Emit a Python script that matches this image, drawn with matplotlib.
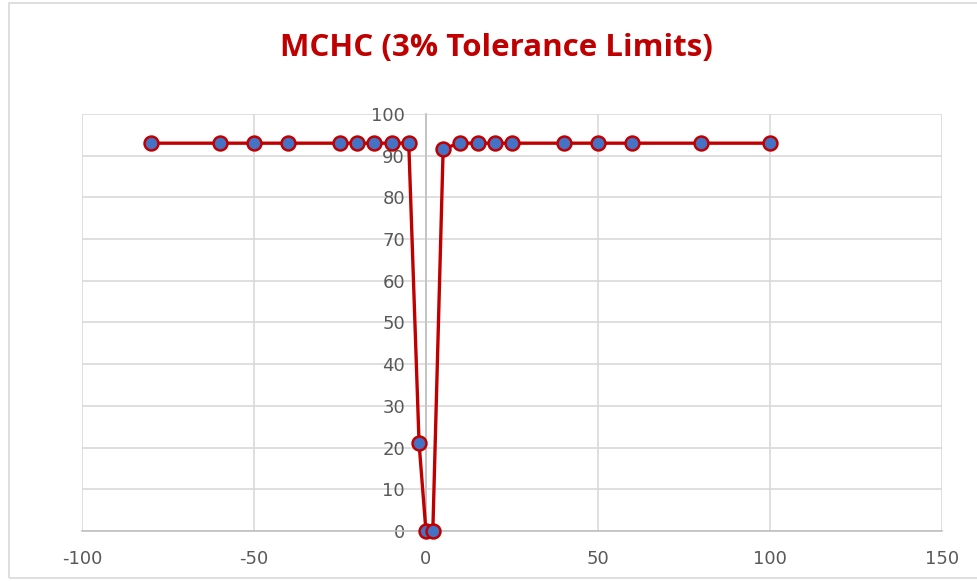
import matplotlib.pyplot as plt
from matplotlib.patches import Rectangle

# MCHC response vs. offset
offset = [-80, -60, -50, -40, -25, -20, -15, -10, -5, -2, 0, 2, 5,
          10, 15, 20, 25, 40, 50, 60, 80, 100]
mchc = [93, 93, 93, 93, 93, 93, 93, 93, 93, 21, 0, 0, 91.7,
        93, 93, 93, 93, 93, 93, 93, 93, 93]

x_ticks = [-100, -50, 0, 50, 100, 150]
y_ticks = list(range(0, 101, 10))

RED = "#C00000"
BLUE = "#4472C4"
GRID = "#D9D9D9"
TEXT = "#595959"

plt.rcParams["axes.unicode_minus"] = False

fig = plt.figure(figsize=(9.77, 5.81), dpi=100)
fig.patches.append(Rectangle((0.009, 0.005), 1.2, 0.99, transform=fig.transFigure,
                             fill=False, edgecolor="#D9D9D9", linewidth=1.2))

ax = fig.add_axes([0.0839, 0.0861, 0.8802, 0.7177])
ax.plot(offset, mchc, color=RED, linewidth=2.4, marker="o", markersize=10,
        markerfacecolor=BLUE, markeredgecolor=RED, markeredgewidth=1.8,
        zorder=3, clip_on=False)

ax.set_xlim(-100, 150)
ax.set_ylim(0, 100)
ax.set_xticks(x_ticks)
ax.set_yticks(y_ticks)
ax.grid(True, color=GRID, linewidth=1.2)
ax.set_axisbelow(True)

for side in ["top", "right"]:
    ax.spines[side].set_visible(False)
ax.spines["left"].set_position(("data", 0))
ax.spines["left"].set_color("#BFBFBF")
ax.spines["bottom"].set_color("#BFBFBF")
ax.spines["left"].set_linewidth(1.2)
ax.spines["bottom"].set_linewidth(1.2)

ax.tick_params(axis="both", length=0, labelsize=13, labelcolor=TEXT)
ax.tick_params(axis="x", pad=14)
ax.tick_params(axis="y", pad=15)

fig.text(0.508, 0.918, "MCHC (3% Tolerance Limits)", ha="center", va="center",
         fontsize=22.5, fontweight="bold", color=RED, family="Open Sans")

fig.savefig("out.png", dpi=100)
